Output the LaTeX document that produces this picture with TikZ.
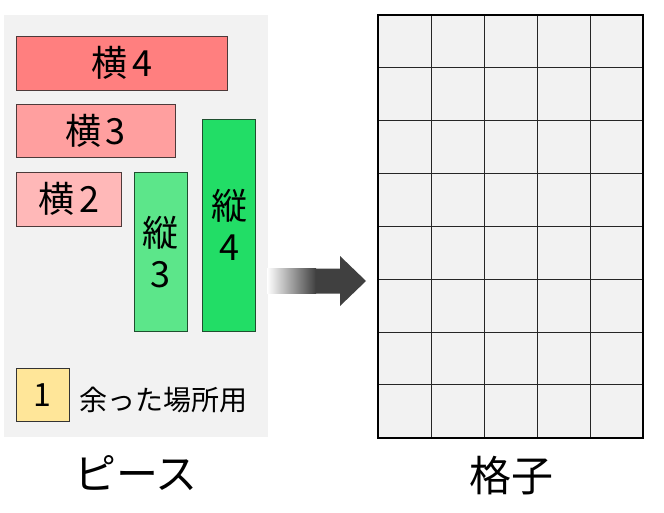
\documentclass[tikz,border=0pt]{standalone}
\usepackage{fontspec}
\setmainfont{Noto Sans CJK JP}
\usetikzlibrary{shadings}
\definecolor{panelbg}{HTML}{F2F2F2}
\definecolor{red4}{HTML}{FF7F7F}
\definecolor{red3}{HTML}{FF9F9F}
\definecolor{red2}{HTML}{FFB8B8}
\definecolor{grn3}{HTML}{5CE68A}
\definecolor{grn4}{HTML}{22DD66}
\definecolor{yel}{HTML}{FFE699}
\definecolor{redline}{HTML}{4D3A3A}
\definecolor{grnline}{HTML}{1F4F2F}
\definecolor{arrowc}{HTML}{404040}
\tikzset{
  piece/.style={draw=redline, line width=0.9pt, inner sep=0pt, font=\fontsize{36}{41}\selectfont, align=center},
  vpiece/.style={piece, draw=grnline},
  biglabel/.style={font=\fontsize{42}{46}\selectfont, inner sep=0pt},
}
\begin{document}
\begin{tikzpicture}[x=1pt,y=-1pt]
\useasboundingbox (0,0) rectangle (664,513);
\fill[white] (0,0) rectangle (664,513);
% panel
\fill[panelbg] (4,15) rectangle (267.7,436.7);
\node[piece, fill=red4, minimum width=211.7pt, minimum height=54pt] (h4) at (121.85,63) {横\hspace{5pt}4};
\node[piece, fill=red3, minimum width=159pt, minimum height=53.4pt] (h3) at (95.5,131) {横\hspace{5pt}3};
\node[piece, fill=red2, minimum width=105.7pt, minimum height=53.7pt] (h2) at (68.85,199.15) {横\hspace{5pt}2};
\node[vpiece, fill=grn3, minimum width=53pt, minimum height=158.7pt] (v3) at (160.8,251.65) {縦\\3};
\node[vpiece, fill=grn4, minimum width=53pt, minimum height=211.7pt] (v4) at (229.2,225.15) {縦\\4};
\node[piece, draw=black!80, fill=yel, minimum width=53pt, minimum height=53.4pt, font=\fontsize{32}{36}\selectfont] (one) at (42.5,395) {1};
\node[anchor=west, inner sep=0pt, font=\fontsize{28}{32}\selectfont] (rest) at (79,400) {余った場所用};
\node[biglabel] (pl) at (136,473) {ピース};
% grid
\fill[panelbg] (378.3,15) rectangle (643.3,437.7);
\foreach \i in {1,...,4} \draw[line width=1pt, black!85] (378.3+53*\i,15) -- (378.3+53*\i,437.7);
\foreach \j in {1,...,7} \draw[line width=1pt, black!85] (378.3,15+52.84*\j) -- (643.3,15+52.84*\j);
\node[draw=black, line width=1.8pt, minimum width=265pt, minimum height=422.7pt, inner sep=0pt] (grid) at (510.8,226.35) {};
\node[biglabel] (gl) at (511.5,476) {格子};
% arrow
\coordinate (as) at (267,281);
\coordinate (ae) at (366,281);
\shade[left color=white, right color=arrowc, shading=axis] ([yshift=-12.5pt]as) rectangle ([xshift=-50pt,yshift=12.5pt]ae);
\fill[arrowc] ([xshift=-50.5pt,yshift=-12.5pt]ae) -- ([xshift=-26pt,yshift=-12.5pt]ae) -- ([xshift=-26pt,yshift=-25pt]ae) -- (ae) -- ([xshift=-26pt,yshift=25pt]ae) -- ([xshift=-26pt,yshift=12.5pt]ae) -- ([xshift=-50.5pt,yshift=12.5pt]ae) -- cycle;
\end{tikzpicture}
\end{document}
